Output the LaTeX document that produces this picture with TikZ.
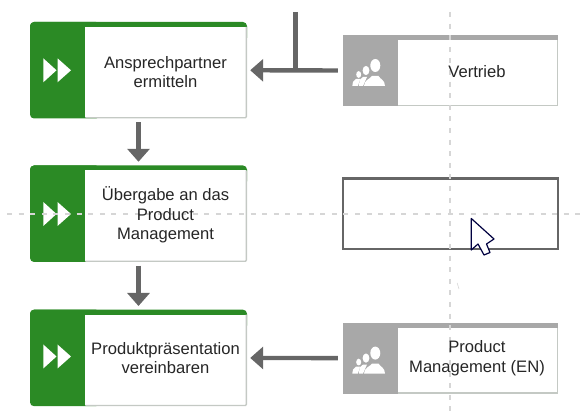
\documentclass[tikz,border=0pt]{standalone}
\usepackage{fontspec}
\setmainfont{Liberation Sans}
\usetikzlibrary{arrows.meta}
\definecolor{taskgreen}{HTML}{2B8A25}
\definecolor{rolegray}{HTML}{A8A8A8}
\definecolor{linegray}{HTML}{666666}
\definecolor{guidegray}{HTML}{D6D6D6}
\definecolor{borderlight}{HTML}{C4C9C4}
\tikzset{
  taskbox/.style={minimum width=217pt,minimum height=96.5pt,inner sep=0pt},
  rolebox/.style={minimum width=215pt,minimum height=71pt,inner sep=0pt},
  label/.style={font=\fontsize{16.6}{19.6}\selectfont,align=center,text=black!85},
  flow/.style={draw=linegray,line width=4.4pt,-{Triangle[length=13pt,width=22pt]}},
  plainflow/.style={draw=linegray,line width=5pt},
  guide/.style={draw=guidegray,line width=2pt,dash pattern=on 5pt off 6.6pt},
  selbox/.style={draw=linegray,line width=2.4pt,fill=white,minimum width=215pt,minimum height=70.5pt,inner sep=0pt},
  playtri/.style={fill=white},
  person/.style={fill=white}
}
\newcommand{\taskshape}[2]{%
  \fill[taskgreen,rounded corners=4pt] (30,#1) rectangle (100,#1-96.5);
  \fill[taskgreen,rounded corners=4pt] (30,#1) rectangle (247,#1-20);
  \fill[white] (85.3,#1-5) rectangle (246.2,#1-95.5);
  \draw[borderlight,line width=1.4pt] (85.3,#1-95.8) -- (245.5,#1-95.8) -- (246.4,#1-94.5) -- (246.4,#1-5);
  \fill[playtri] (43.3,#2+12) -- (56.5,#2) -- (43.3,#2-12) -- cycle;
  \fill[playtri] (57.5,#2+12) -- (71,#2) -- (57.5,#2-12) -- cycle;
}
\newcommand{\roleshape}[1]{%
  \fill[rolegray] (342.8,#1) rectangle (397.7,#1-71);
  \fill[rolegray] (342.8,#1) rectangle (558,#1-5);
  \draw[borderlight,line width=1.4pt] (397.7,#1-70.4) -- (557.5,#1-70.4) -- (557.5,#1-5);
  \fill[person] (375.3,#1-30.5) ellipse (5 and 6.5);
  \fill[person] (364,#1-51) .. controls (364,#1-45) and (370,#1-44) .. (372,#1-41) -- (378.5,#1-41) .. controls (380,#1-44) and (385,#1-45) .. (385,#1-51) -- cycle;
  \fill[person] (366,#1-35.5) ellipse (3.4 and 4.6);
  \fill[person] (359,#1-51) -- (359.5,#1-45) -- (363,#1-42) -- (367,#1-42) -- (363,#1-51) -- cycle;
  \fill[person] (358.7,#1-39.5) ellipse (2.5 and 3.4);
  \fill[person] (352.3,#1-51) -- (353,#1-47) -- (356,#1-44) -- (360,#1-44) -- (358,#1-51) -- cycle;
}
\begin{document}
\begin{tikzpicture}[x=1pt,y=1pt]
\useasboundingbox (0,0) rectangle (582,412);
% task shapes
\taskshape{390}{341.7}
\taskshape{246.5}{198}
\taskshape{102.3}{55.5}
% role shapes
\roleshape{377}
\roleshape{89.4}
% nodes
\node[taskbox] (t1) at (138.5,341.75) {};
\node[taskbox] (t2) at (138.5,198.25) {};
\node[taskbox] (t3) at (138.5,54.05) {};
\node[rolebox] (r1) at (450.4,341.5) {};
\node[rolebox] (r2) at (450.4,53.9) {};
\node[selbox] (sel) at (450.2,198.2) {};
% connectors
\coordinate (top) at (295.5,400);
\draw[flow] ([yshift=-3.5pt]t1.south) -- ([yshift=3.5pt]t2.north);
\draw[flow] ([yshift=-3.5pt]t2.south) -- ([yshift=3.5pt]t3.north);
\draw[flow] ([xshift=-4.8pt]r1.west) -- ([xshift=3pt]t1.east);
\draw[flow] ([xshift=-4.8pt]r2.west) -- ([xshift=3pt]t3.east);
\draw[plainflow] (top) -- (top |- r1.west);
% guides
\coordinate (gl) at (7,198);
\coordinate (gr) at (582,198);
\coordinate (gt) at (450,400);
\coordinate (gb) at (450,0);
\draw[guide] (gl) -- (gr);
\draw[guide] (gt) -- (gb);
\coordinate (m1) at (457.2,129);
\coordinate (m2) at (459,123);
\draw[guidegray,line width=.6pt] (m1) -- (m2);
% labels
\node[label] (t1l) at (165.5,340) {Ansprechpartner\\ermitteln};
\node[label] (t2l) at (165.5,197) {Übergabe an das\\Product\\Management};
\node[label] (t3l) at (165.5,54) {Produktpräsentation\\vereinbaren};
\node[label] (r1l) at (477,340.5) {Vertrieb};
\node[label] (r2l) at (477,54) {Product\\Management (EN)};
% cursor
\draw[draw=black!75!blue,fill=white,line width=1.2pt,line join=round]
  (471.3,193.5) -- (471.3,162) -- (478,168) -- (484,157) -- (490,159.5) -- (486.5,168) -- (494,173) -- cycle;
\end{tikzpicture}
\end{document}
